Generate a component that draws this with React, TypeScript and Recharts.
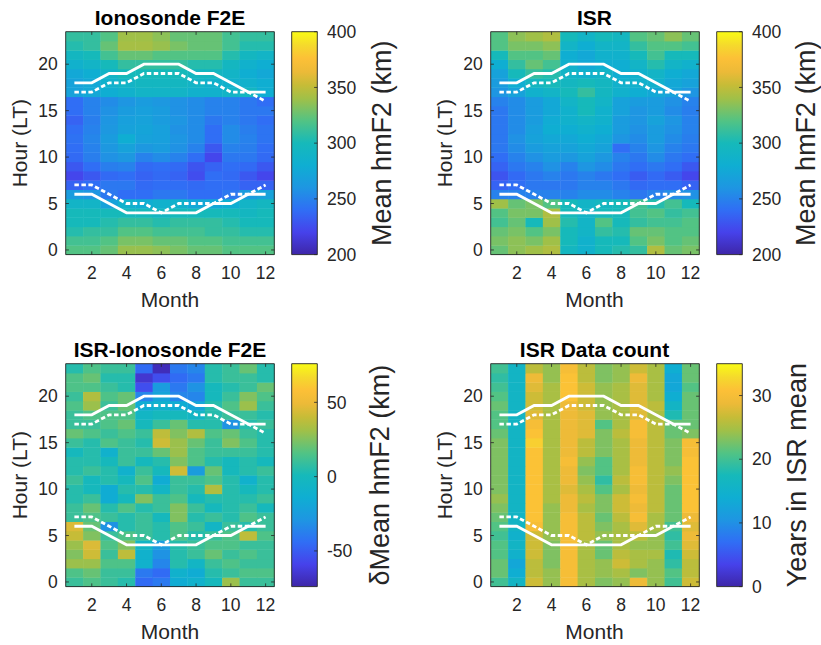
import React from 'react'
import { ScatterChart, Scatter, XAxis, YAxis, ReferenceArea } from 'recharts'

// ---- data (hour 0 first, months 1..12 in each row) ----
const months = [1, 2, 3, 4, 5, 6, 7, 8, 9, 10, 11, 12]
const hourTicks = [0, 5, 10, 15, 20]
const monthTicks = [2, 4, 6, 8, 10, 12]

// terminator lines (hour LT per month)
const sunsetSolid = [18, 18, 19, 19, 20, 20, 20, 19, 19, 18, 17, 17]
const sunsetDashed = [17, 17, 18, 18, 19, 19, 19, 18, 18, 17, 17, 16]
const sunriseDashed = [7, 7, 6, 5, 5, 4, 5, 5, 5, 6, 6, 7]
const sunriseSolid = [6, 6, 5, 4, 4, 4, 4, 4, 5, 5, 6, 6]

const ionoF2E = [
  [320, 320, 325, 338, 338, 335, 330, 325, 325, 320, 320, 320],
  [315, 315, 320, 330, 330, 325, 325, 320, 320, 315, 315, 315],
  [305, 310, 310, 320, 320, 315, 315, 315, 310, 310, 305, 305],
  [300, 300, 305, 310, 310, 305, 310, 310, 310, 305, 300, 300],
  [300, 300, 300, 300, 300, 295, 300, 300, 300, 300, 295, 300],
  [290, 290, 270, 285, 280, 285, 285, 275, 275, 280, 290, 295],
  [265, 260, 245, 240, 240, 245, 245, 240, 240, 245, 265, 270],
  [235, 240, 245, 245, 238, 240, 240, 238, 240, 240, 235, 235],
  [222, 230, 238, 240, 235, 238, 235, 225, 240, 238, 230, 222],
  [230, 240, 248, 250, 238, 240, 238, 228, 235, 240, 238, 230],
  [238, 248, 258, 262, 250, 255, 250, 240, 222, 245, 245, 238],
  [240, 250, 262, 270, 262, 265, 258, 250, 230, 250, 248, 240],
  [242, 252, 265, 280, 270, 268, 260, 255, 240, 255, 250, 243],
  [240, 250, 262, 270, 272, 268, 258, 255, 240, 255, 248, 243],
  [235, 248, 260, 268, 270, 265, 260, 255, 245, 250, 245, 240],
  [240, 250, 258, 265, 268, 265, 258, 255, 250, 250, 245, 245],
  [240, 250, 255, 260, 265, 262, 258, 255, 250, 250, 245, 240],
  [270, 275, 280, 285, 290, 290, 290, 285, 285, 290, 295, 280],
  [270, 275, 285, 290, 295, 295, 295, 290, 285, 285, 285, 280],
  [275, 280, 290, 300, 300, 300, 300, 295, 295, 290, 280, 275],
  [285, 290, 300, 310, 310, 310, 310, 305, 305, 295, 285, 280],
  [295, 300, 315, 325, 325, 320, 320, 320, 320, 305, 295, 290],
  [305, 310, 325, 342, 342, 338, 330, 325, 325, 315, 305, 305],
  [310, 310, 320, 340, 340, 335, 325, 325, 325, 315, 310, 310],
]

const isrMean = [
  [325, 335, 340, 345, 295, 285, 300, 305, 310, 345, 325, 330],
  [330, 335, 330, 340, 300, 285, 300, 300, 320, 330, 320, 325],
  [325, 330, 320, 330, 300, 290, 310, 305, 325, 325, 320, 320],
  [315, 325, 300, 340, 305, 290, 320, 300, 310, 315, 315, 320],
  [320, 330, 330, 345, 300, 290, 300, 300, 315, 320, 310, 315],
  [340, 325, 330, 320, 300, 290, 295, 300, 315, 305, 315, 300],
  [250, 250, 250, 250, 250, 255, 255, 250, 245, 250, 255, 258],
  [235, 240, 245, 245, 245, 250, 250, 245, 238, 240, 240, 235],
  [228, 238, 245, 250, 245, 250, 245, 240, 232, 238, 232, 222],
  [235, 245, 250, 258, 250, 260, 255, 245, 240, 245, 240, 230],
  [240, 250, 258, 265, 262, 270, 262, 250, 245, 255, 245, 240],
  [245, 255, 265, 270, 270, 275, 270, 240, 250, 260, 250, 245],
  [245, 258, 270, 275, 275, 280, 275, 260, 255, 265, 255, 248],
  [245, 255, 268, 280, 280, 285, 280, 265, 258, 265, 258, 250],
  [245, 255, 265, 278, 285, 290, 285, 265, 260, 270, 260, 250],
  [245, 255, 265, 275, 285, 300, 285, 270, 260, 265, 255, 248],
  [250, 255, 265, 275, 290, 300, 290, 270, 265, 265, 258, 250],
  [260, 270, 285, 290, 300, 310, 295, 285, 280, 275, 270, 260],
  [265, 280, 295, 300, 295, 300, 295, 285, 285, 285, 275, 270],
  [270, 300, 310, 305, 290, 285, 290, 280, 285, 290, 280, 275],
  [280, 310, 325, 315, 285, 275, 280, 280, 290, 305, 290, 285],
  [300, 320, 320, 325, 280, 275, 285, 285, 300, 315, 300, 300],
  [320, 330, 330, 335, 290, 280, 290, 290, 310, 320, 320, 315],
  [320, 335, 340, 345, 300, 290, 300, 295, 320, 325, 335, 325],
]

const isrMinusIono = [
  [10, 15, 10, 5, -45, -40, -15, -10, 0, 30, 10, 10],
  [15, 20, 10, 10, -40, -45, -10, -15, 5, 10, 15, 15],
  [30, 30, 15, 15, -10, -35, 5, -5, 10, 15, 10, 10],
  [25, 42, 10, 38, -10, -30, 5, 10, 20, 10, 15, 10],
  [30, 45, 15, 25, -5, -25, 5, 10, 15, 15, 10, 10],
  [40, 25, 10, 15, 10, 5, 15, 5, 10, 15, 38, 15],
  [45, 20, -30, 5, 10, 5, 15, 10, -5, 10, 5, 10],
  [10, 15, 10, 5, 10, 0, 25, 5, 10, 5, 15, 10],
  [10, 20, 5, 15, 5, 10, 25, 10, 0, 5, 10, 0],
  [5, 10, -15, 0, 25, 10, 15, 0, 5, 5, 5, 10],
  [5, 0, -15, 5, 5, -5, 10, 5, 35, 5, 0, 5],
  [10, 0, 5, 0, 15, -15, 10, 10, 15, 5, -10, 5],
  [5, 10, 5, -10, 10, 0, 42, -25, 20, 0, 5, 10],
  [5, 5, 0, 10, 0, 5, 25, 15, 5, 0, 5, 0],
  [0, 5, -10, 10, 10, 20, 30, 15, 10, 10, 10, 5],
  [10, 5, 15, 10, 5, 42, 30, 20, 10, 25, 15, 5],
  [20, 15, 10, 15, 10, 38, 25, 35, 15, 20, 10, 5],
  [10, 10, 15, 20, 0, 10, 20, 5, 5, -30, 5, 10],
  [10, 15, 15, 15, -5, 0, 0, -5, 5, 10, 10, 5],
  [15, 30, 10, 20, -15, -10, -15, -20, 5, 15, 30, 10],
  [10, 35, 15, 20, -35, -20, -35, -35, 0, 10, 25, 15],
  [15, 15, 10, 5, -55, -25, -40, -30, 0, 5, 10, 20],
  [15, 20, 5, 5, -65, -55, -45, -40, 5, 10, 10, 5],
  [5, 15, 10, 10, -45, -70, -40, -35, 5, 10, 20, 5],
]

const isrYears = [
  [20, 16, 27, 24, 30, 25, 23, 24, 29, 24, 20, 27],
  [22, 14, 26, 24, 30, 25, 24, 25, 23, 24, 21, 26],
  [22, 13, 26, 23, 30, 25, 24, 27, 25, 24, 19, 26],
  [21, 15, 27, 23, 30, 25, 22, 26, 25, 25, 18, 27],
  [21, 16, 27, 23, 30, 25, 22, 25, 24, 24, 20, 28],
  [20, 15, 27, 24, 30, 26, 24, 25, 26, 24, 19, 29],
  [21, 16, 30, 24, 30, 26, 23, 25, 28, 25, 20, 28],
  [22, 16, 31, 24, 30, 26, 22, 26, 30, 25, 22, 29],
  [23, 16, 31, 24, 29, 25, 23, 27, 29, 26, 22, 31],
  [24, 16, 31, 25, 29, 26, 23, 27, 30, 26, 22, 31],
  [23, 16, 31, 25, 28, 25, 21, 25, 29, 26, 22, 31],
  [23, 16, 31, 25, 29, 24, 19, 26, 30, 26, 23, 31],
  [23, 16, 31, 25, 29, 23, 21, 25, 30, 26, 24, 31],
  [23, 16, 31, 25, 30, 24, 21, 25, 29, 26, 23, 31],
  [23, 16, 31, 25, 29, 26, 23, 25, 29, 26, 23, 30],
  [23, 16, 32, 25, 29, 26, 23, 25, 29, 26, 23, 30],
  [22, 16, 31, 25, 29, 28, 23, 26, 30, 26, 22, 23],
  [21, 16, 30, 25, 29, 28, 21, 25, 30, 26, 22, 22],
  [21, 16, 28, 25, 29, 28, 24, 25, 28, 25, 18, 22],
  [22, 16, 27, 25, 29, 27, 24, 25, 28, 26, 16, 22],
  [21, 16, 27, 25, 31, 27, 24, 25, 28, 25, 14, 22],
  [20, 16, 28, 25, 31, 27, 24, 25, 28, 25, 13, 21],
  [19, 16, 29, 24, 31, 26, 23, 24, 29, 25, 13, 22],
  [20, 16, 26, 24, 30, 26, 23, 24, 27, 25, 14, 22],
]

// colour scale limits and colorbar ticks
const hmfRange = [200, 400]
const hmfTicks = [200, 250, 300, 350, 400]
const deltaRange = [-74, 76]
const deltaTicks = [-50, 0, 50]
const yearsRange = [0, 35]
const yearsTicks = [0, 10, 20, 30]

// parula-like colormap: [position, r, g, b]
const PARULA = [
  [0, 62, 38, 168], [0.1, 70, 66, 235], [0.2, 48, 110, 245], [0.3, 30, 150, 226],
  [0.4, 15, 174, 210], [0.5, 22, 185, 186], [0.6, 82, 195, 132], [0.7, 160, 192, 72],
  [0.76, 198, 188, 55], [0.82, 236, 186, 56], [0.88, 252, 192, 55], [0.94, 245, 218, 44],
  [1, 249, 251, 21],
]
function parula(t: number) {
  const x = Math.max(0, Math.min(1, t))
  let i = 0
  while (i < PARULA.length - 2 && x > PARULA[i + 1][0]) i++
  const a = PARULA[i], b = PARULA[i + 1]
  const f = (x - a[0]) / (b[0] - a[0])
  const c = [1, 2, 3].map((k) => Math.round(a[k] + (b[k] - a[k]) * f))
  return `rgb(${c.join(',')})`
}

const INK = '#262626'
const FONT = '"Liberation Sans", Arial, Helvetica, sans-serif'
const CH_W = 290
const CH_H = 320
const M = { top: 31.7, right: 15.7, bottom: 5, left: 25.7 }
const Y_W = 40
const X_H = 60.4
const PLOT_W = CH_W - M.left - M.right - Y_W
const PLOT_H = CH_H - M.top - M.bottom - X_H
const CELL_W = PLOT_W / 12
const CELL_H = PLOT_H / 24
const TICK_LEN = 3.2

const toCells = (grid: number[][]) =>
  grid.flatMap((row, h) => row.map((v, i) => ({ month: months[i], hour: h, v })))
const toLine = (hours: number[]) => months.map((m, i) => ({ month: m, hour: hours[i] }))

const noDot = () => <g />

// inward tick marks
// eslint-disable-next-line @typescript-eslint/no-explicit-any
const tickShape = (p: any) => {
  const s = p.payload.side
  const dx = s === 'l' ? 1 : s === 'r' ? -1 : 0
  const dy = s === 'b' ? -1 : s === 't' ? 1 : 0
  return <line x1={p.cx} y1={p.cy} x2={p.cx + dx * TICK_LEN} y2={p.cy + dy * TICK_LEN} stroke={INK} strokeWidth={0.8} />
}

const frame = [
  { month: 0.5, hour: -0.5 }, { month: 12.5, hour: -0.5 }, { month: 12.5, hour: 23.5 },
  { month: 0.5, hour: 23.5 }, { month: 0.5, hour: -0.5 },
]
const axisTicks = [
  ...monthTicks.map((m) => ({ month: m, hour: -0.5, side: 'b' })),
  ...monthTicks.map((m) => ({ month: m, hour: 23.5, side: 't' })),
  ...hourTicks.map((h) => ({ month: 0.5, hour: h, side: 'l' })),
  ...hourTicks.map((h) => ({ month: 12.5, hour: h, side: 'r' })),
]

function Heatmap({ grid, range }: { grid: number[][]; range: number[] }) {
  const [lo, hi] = range
  // eslint-disable-next-line @typescript-eslint/no-explicit-any
  const cellShape = (p: any) => (
    <rect
      x={p.cx - CELL_W / 2}
      y={p.cy - CELL_H / 2}
      width={CELL_W + 0.4}
      height={CELL_H + 0.4}
      fill={parula((p.payload.v - lo) / (hi - lo))}
    />
  )
  const whiteLine = { stroke: '#fff', strokeWidth: 2.8 }
  const whiteDash = { stroke: '#fff', strokeWidth: 2.8, strokeDasharray: '4.5 2.5' }
  return (
    <ScatterChart width={CH_W} height={CH_H} margin={M}>
      <XAxis
        dataKey='month'
        type='number'
        domain={[0.5, 12.5]}
        ticks={monthTicks}
        height={X_H}
        tickLine={false}
        axisLine={false}
        tickMargin={6}
        tick={{ fontSize: 17.5, fill: INK }}
      />
      <YAxis
        dataKey='hour'
        type='number'
        domain={[-0.5, 23.5]}
        ticks={hourTicks}
        width={Y_W}
        tickLine={false}
        axisLine={false}
        tick={{ fontSize: 17.5, fill: INK }}
      />
      <Scatter data={toCells(grid)} shape={cellShape} isAnimationActive={false} />
      <Scatter data={toLine(sunsetSolid)} line={whiteLine} shape={noDot} isAnimationActive={false} />
      <Scatter data={toLine(sunsetDashed)} line={whiteDash} shape={noDot} isAnimationActive={false} />
      <Scatter data={toLine(sunriseDashed)} line={whiteDash} shape={noDot} isAnimationActive={false} />
      <Scatter data={toLine(sunriseSolid)} line={whiteLine} shape={noDot} isAnimationActive={false} />
      <Scatter data={frame} line={{ stroke: INK, strokeWidth: 0.9 }} shape={noDot} isAnimationActive={false} />
      <Scatter data={axisTicks} shape={tickShape} isAnimationActive={false} />
    </ScatterChart>
  )
}

function Colorbar({ range, ticks }: { range: number[]; ticks: number[] }) {
  const [lo, hi] = range
  const box = [
    { x: 0, y: lo }, { x: 1, y: lo }, { x: 1, y: hi }, { x: 0, y: hi }, { x: 0, y: lo },
  ]
  const marks = ticks.map((t) => ({ x: 1, y: t, side: 'r' }))
  return (
    <ScatterChart width={160} height={CH_H} margin={{ top: M.top, right: 44.7, bottom: CH_H - M.top - PLOT_H, left: 29.7 }}>
      <XAxis dataKey='x' type='number' domain={[0, 1]} hide />
      <YAxis
        dataKey='y'
        type='number'
        orientation='right'
        domain={[lo, hi]}
        ticks={ticks}
        width={60}
        tickLine={false}
        axisLine={false}
        tickMargin={3.7}
        tick={{ fontSize: 17.5, fill: INK }}
      />
      <ReferenceArea x1={0} x2={1} y1={lo} y2={hi} fill='url(#parulaGrad)' fillOpacity={1} stroke='none' />
      <Scatter data={box} line={{ stroke: INK, strokeWidth: 0.9 }} shape={noDot} isAnimationActive={false} />
      <Scatter data={marks} shape={tickShape} isAnimationActive={false} />
    </ScatterChart>
  )
}

const panels = [
  { title: 'Ionosonde F2E', grid: ionoF2E, range: hmfRange, ticks: hmfTicks, cbLabel: 'Mean hmF2 (km)', cbX: 381.7, ox: 0, oy: 0 },
  { title: 'ISR', grid: isrMean, range: hmfRange, ticks: hmfTicks, cbLabel: 'Mean hmF2 (km)', cbX: 381.7, ox: 424.5, oy: 0 },
  { title: 'ISR-Ionosonde F2E', grid: isrMinusIono, range: deltaRange, ticks: deltaTicks, cbLabel: 'δMean hmF2 (km)', cbX: 380, ox: 0, oy: 332 },
  { title: 'ISR Data count', grid: isrYears, range: yearsRange, ticks: yearsTicks, cbLabel: 'Years in ISR mean', cbX: 372.5, ox: 424.5, oy: 332 },
]

export default function App() {
  const midY = M.top + PLOT_H / 2
  return (
    <div style={{ position: 'absolute', left: 0, top: 0, width: 821, height: 645, background: '#fff', fontFamily: FONT }}>
      <svg width={0} height={0} style={{ position: 'absolute' }}>
        <defs>
          <linearGradient id='parulaGrad' x1='0' y1='1' x2='0' y2='0'>
            {PARULA.map((s) => (
              <stop key={s[0]} offset={s[0]} stopColor={`rgb(${s[1]},${s[2]},${s[3]})`} />
            ))}
          </linearGradient>
        </defs>
      </svg>
      {panels.map((p) => (
        <React.Fragment key={p.title}>
          <div style={{ position: 'absolute', left: p.ox, top: p.oy }}>
            <Heatmap grid={p.grid} range={p.range} />
          </div>
          <div style={{ position: 'absolute', left: p.ox + 262, top: p.oy }}>
            <Colorbar range={p.range} ticks={p.ticks} />
          </div>
        </React.Fragment>
      ))}
      <svg width={821} height={645} style={{ position: 'absolute', left: 0, top: 0, pointerEvents: 'none' }}>
        {panels.map((p) => (
          <g key={p.title} transform={`translate(${p.ox},${p.oy})`}>
            <text x={170} y={25} textAnchor='middle' fontSize={21} fontWeight='bold' fill='#000'>
              {p.title}
            </text>
            <text x={170} y={306.5} textAnchor='middle' fontSize={21} fill={INK}>
              Month
            </text>
            <text
              x={20}
              y={midY}
              textAnchor='middle'
              dominantBaseline='central'
              fontSize={21}
              fill={INK}
              transform={`rotate(-90 20 ${midY})`}
            >
              Hour (LT)
            </text>
            <text
              x={p.cbX}
              y={midY}
              textAnchor='middle'
              dominantBaseline='central'
              fontSize={27}
              fill={INK}
              transform={`rotate(-90 ${p.cbX} ${midY})`}
            >
              {p.cbLabel}
            </text>
          </g>
        ))}
      </svg>
    </div>
  )
}
